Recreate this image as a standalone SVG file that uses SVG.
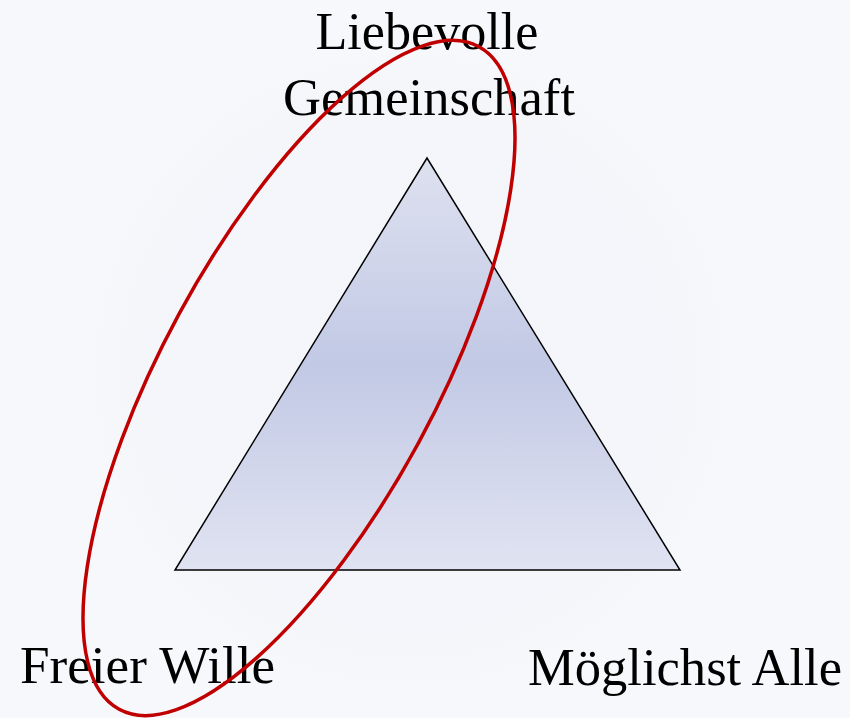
<svg xmlns="http://www.w3.org/2000/svg" width="850" height="718" viewBox="0 0 850 718">
  <defs>
    <linearGradient id="triGrad" x1="0" y1="158" x2="0" y2="570" gradientUnits="userSpaceOnUse">
      <stop offset="0" stop-color="#dde1ef"/>
      <stop offset="0.5" stop-color="#c2c9e5"/>
      <stop offset="1" stop-color="#e0e3f1"/>
    </linearGradient>
    <radialGradient id="bgGlow" cx="410" cy="370" r="320" gradientUnits="userSpaceOnUse">
      <stop offset="0" stop-color="#f4f5fa"/>
      <stop offset="0.9" stop-color="#f5f6fa"/>
      <stop offset="1" stop-color="#f7f8fb"/>
    </radialGradient>
  </defs>
  <style>
    .label { font-family: "Liberation Serif", "DejaVu Serif", serif; font-size: 52px; fill: #000; }
    .tri { fill: url(#triGrad); stroke: #000; stroke-width: 1.5; stroke-linejoin: miter; }
    .loop { fill: none; stroke: #c00000; stroke-width: 3.5; }
  </style>
  <rect x="0" y="0" width="850" height="718" fill="#f7f8fb"/>
  <circle cx="410" cy="370" r="320" fill="url(#bgGlow)"/>
  <g id="triangle">
    <polygon class="tri" points="427,158 175,570 680,570"/>
  </g>
  <g id="node-liebevolle">
    <text class="label" x="427" y="49" text-anchor="middle" textLength="223" lengthAdjust="spacingAndGlyphs">Liebevolle</text>
    <text class="label" x="429" y="115" text-anchor="middle" textLength="292" lengthAdjust="spacingAndGlyphs">Gemeinschaft</text>
  </g>
  <g id="node-freier">
    <text class="label" x="20" y="683" textLength="255" lengthAdjust="spacingAndGlyphs">Freier Wille</text>
  </g>
  <g id="node-moeglichst">
    <text class="label" x="528" y="685" textLength="314" lengthAdjust="spacingAndGlyphs">Möglichst Alle</text>
  </g>
  <g id="connectors">
    <ellipse class="loop" cx="299" cy="378" rx="377" ry="136" transform="rotate(-61.5 299 378)"/>
  </g>
</svg>
